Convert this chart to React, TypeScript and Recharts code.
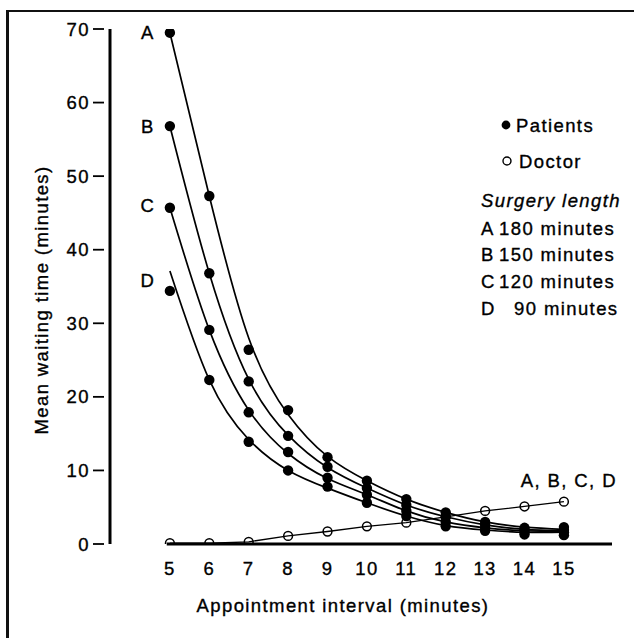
import React from 'react';
import { ComposedChart, Line, XAxis, YAxis, ReferenceLine, ReferenceDot } from 'recharts';

const FONT = '"Liberation Sans", Arial, Helvetica, sans-serif';
const FS = 18.5;
const LS = 1.4;

// Appointment interval (minutes)
const intervals = [5, 6, 7, 8, 9, 10, 11, 12, 13, 14, 15];
// Mean patient waiting time (observed points) per surgery length
const patientsA = [69.5, 47.3, 26.4, 18.2, 11.8, 8.6, 6.1, 4.3, 3.0, 2.2, 2.3];
const patientsB = [56.8, 36.8, 22.1, 14.7, 10.5, 7.6, 5.3, 3.7, 2.6, 1.9, 1.9];
const patientsC = [45.7, 29.1, 17.9, 12.5, 9.0, 6.7, 4.5, 3.0, 2.2, 1.6, 1.6];
const patientsD = [34.4, 22.3, 13.9, 10.0, 7.8, 5.6, 3.8, 2.4, 1.8, 1.3, 1.2];
// Fitted curves
const curveA = [69.5, 47.3, 28.0, 17.6, 11.9, 8.6, 6.1, 4.3, 3.0, 2.3, 2.0];
const curveB = [56.8, 36.8, 22.4, 14.8, 10.4, 7.6, 5.3, 3.7, 2.6, 2.0, 1.8];
const curveC = [45.7, 29.1, 18.2, 12.3, 8.9, 6.7, 4.5, 3.0, 2.2, 1.8, 1.7];
const curveD = [37.1, 22.3, 14.2, 10.0, 7.6, 5.6, 3.8, 2.5, 1.9, 1.6, 1.6];
// Doctor's mean waiting time (same for A, B, C, D)
const doctorWait = [0.1, 0.1, 0.3, 1.1, 1.7, 2.4, 2.9, 3.7, 4.5, 5.1, 5.75];

const surgeryLetters = ['A', 'B', 'C', 'D'];
const surgeryLengths = ['180 minutes', '150 minutes', '120 minutes', '90 minutes'];
const yTicks = [0, 10, 20, 30, 40, 50, 60, 70];

const rows = (vals: number[]) => intervals.map((x, i) => ({ x, y: vals[i] }));

const patientSeries = [patientsA, patientsB, patientsC, patientsD];
const curveSeries = [curveA, curveB, curveC, curveD];

const textProps = {
  fontFamily: FONT,
  fontSize: FS,
  letterSpacing: LS,
  fill: '#000',
  stroke: '#000',
  strokeWidth: 0.35,
};

const XTick = (props: any) => (
  <text x={props.x} y={props.y + 13} textAnchor="middle" {...textProps}>
    {props.payload.value}
  </text>
);

const YTick = (props: any) => (
  <g>
    <text x={props.x - 20} y={props.y + 6.5} textAnchor="end" {...textProps}>
      {props.payload.value}
    </text>
    <line x1={props.x - 17} x2={props.x - 6} y1={props.y} y2={props.y} stroke="#000" strokeWidth={1.8} />
  </g>
);

const FilledDot = (props: any) =>
  props.cx == null ? null : <circle cx={props.cx} cy={props.cy} r={5.2} fill="#000" stroke="none" />;
const OpenDot = (props: any) =>
  props.cx == null ? null : <circle cx={props.cx} cy={props.cy} r={4.4} fill="none" stroke="#000" strokeWidth={1.5} />;

const letterShape = (letter: string, dy: number) => (props: any) => (
  <text x={props.cx - 22} y={props.cy + dy} textAnchor="middle" {...textProps}>
    {letter}
  </text>
);

const allLabel = (props: any) => (
  <text x={props.cx + 53} y={props.cy - 15} textAnchor="end" {...textProps}>
    A, B, C, D
  </text>
);

export default function App() {
  return (
    <div style={{ position: 'absolute', left: 0, top: 0, width: 634, height: 638, overflow: 'hidden', background: '#fff' }}>
      <div
        style={{
          position: 'absolute',
          left: 6,
          top: 10,
          width: 628,
          height: 628,
          borderTop: '2.5px solid #111',
          borderLeft: '3px solid #111',
          boxSizing: 'border-box',
        }}
      />
      <div style={{ position: 'absolute', left: 0, top: 0 }}>
        <ComposedChart width={634} height={638} margin={{ top: 29, right: 22, bottom: 34, left: 8 }}>
          <XAxis
            type="number"
            dataKey="x"
            domain={[3.48, 16.22]}
            ticks={intervals}
            axisLine={false}
            tickLine={false}
            tickSize={0}
            tickMargin={18}
            height={60}
            tick={XTick}
            allowDataOverflow
          />
          <YAxis
            type="number"
            dataKey="y"
            domain={[0, 70]}
            ticks={yTicks}
            axisLine={{ stroke: '#000', strokeWidth: 3 }}
            tickLine={false}
            tickSize={0}
            tickMargin={0}
            width={102}
            tick={YTick}
            allowDataOverflow
          />
          <ReferenceLine segment={[{ x: 4.92, y: 0 }, { x: 16.22, y: 0 }]} stroke="#000" strokeWidth={3} />
          {curveSeries.map((c, i) => (
            <Line
              key={'c' + i}
              data={rows(c)}
              dataKey="y"
              type="natural"
              stroke="#000"
              strokeWidth={1.7}
              dot={false}
              activeDot={false}
              isAnimationActive={false}
            />
          ))}
          {patientSeries.map((p, i) => (
            <Line
              key={'p' + i}
              data={rows(p)}
              dataKey="y"
              stroke="none"
              dot={FilledDot}
              activeDot={false}
              isAnimationActive={false}
            />
          ))}
          <Line
            data={rows(doctorWait)}
            dataKey="y"
            type="linear"
            stroke="#000"
            strokeWidth={1.3}
            dot={OpenDot}
            activeDot={false}
            isAnimationActive={false}
          />
          <ReferenceDot x={intervals[0]} y={curveA[0]} r={1} shape={letterShape(surgeryLetters[0], 6.5)} />
          <ReferenceDot x={intervals[0]} y={curveB[0]} r={1} shape={letterShape(surgeryLetters[1], 6.5)} />
          <ReferenceDot x={intervals[0]} y={curveC[0]} r={1} shape={letterShape(surgeryLetters[2], 4)} />
          <ReferenceDot
            x={intervals[0]}
            y={(curveD[0] + patientsD[0]) / 2}
            r={1}
            shape={letterShape(surgeryLetters[3], 6.5)}
          />
          <ReferenceDot x={intervals[10]} y={doctorWait[10]} r={1} shape={allLabel} />
        </ComposedChart>
      </div>
      <svg
        width={634}
        height={638}
        style={{ position: 'absolute', left: 0, top: 0, pointerEvents: 'none' }}
      >
        <text
          x={48}
          y={300}
          transform="rotate(-90 48 300)"
          textAnchor="middle"
          {...textProps}
        >
          Mean waiting time (minutes)
        </text>
        <text x={343} y={612} textAnchor="middle" {...textProps}>
          Appointment interval (minutes)
        </text>
        <circle cx={506} cy={125} r={4.4} fill="#000" />
        <text x={516} y={131.5} {...textProps}>Patients</text>
        <circle cx={507} cy={161} r={4} fill="none" stroke="#000" strokeWidth={1.4} />
        <text x={519} y={167.5} {...textProps}>Doctor</text>
        <text x={481} y={206.5} {...textProps} fontStyle="italic">Surgery length</text>
        {surgeryLetters.map((l, i) => (
          <g key={l}>
            <text x={481} y={234.5 + i * 26.7} {...textProps}>{l}</text>
            <text x={i === 3 ? 514 : 499} y={234.5 + i * 26.7} {...textProps}>{surgeryLengths[i]}</text>
          </g>
        ))}
      </svg>
    </div>
  );
}
